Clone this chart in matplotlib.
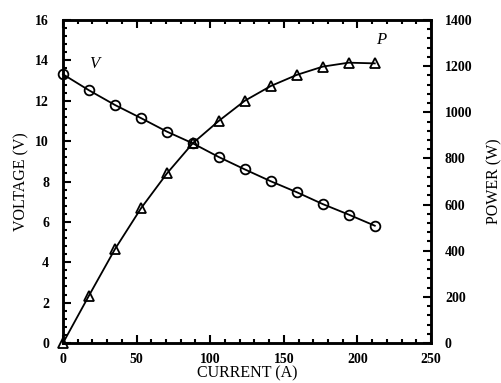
import matplotlib.pyplot as plt
from matplotlib.ticker import MultipleLocator

# data
current = [0, 17.6, 35.3, 53.0, 70.6, 88.2, 105.9, 123.5, 141.2, 158.8, 176.5, 194.1, 211.8]
voltage = [13.31, 12.52, 11.79, 11.14, 10.47, 9.89, 9.21, 8.60, 8.01, 7.47, 6.88, 6.36, 5.81]
power = [0, 205, 407, 584, 735, 866, 963, 1050, 1114, 1162, 1198, 1215, 1212]

serif = "Liberation Serif"

fig = plt.figure(figsize=(5.02, 3.83), dpi=100)
ax = fig.add_axes([0.1255, 0.1044, 0.7331, 0.8434])
ax2 = ax.twinx()

ax.plot(current, voltage, color="black", lw=1.3, marker="o", ms=7,
        mfc="none", mec="black", mew=1.3, clip_on=False, zorder=3)
ax2.plot(current, power, color="black", lw=1.3, marker="^", ms=7,
         mfc="none", mec="black", mew=1.3, clip_on=False, zorder=3)

ax.set_xlim(0, 250)
ax.set_ylim(0, 16)
ax2.set_ylim(0, 1400)

ax.xaxis.set_major_locator(MultipleLocator(50))
ax.xaxis.set_minor_locator(MultipleLocator(10))
ax.yaxis.set_major_locator(MultipleLocator(2))
ax.yaxis.set_minor_locator(MultipleLocator(0.4))
ax2.yaxis.set_major_locator(MultipleLocator(200))
ax2.yaxis.set_minor_locator(MultipleLocator(40))

ax.tick_params(which="both", direction="in", top=True, right=False, width=1.5)
ax.tick_params(which="major", length=6)
ax.tick_params(which="minor", length=3)
ax.tick_params(axis="x", pad=7)
ax.tick_params(axis="y", pad=10)
ax2.tick_params(which="both", direction="in", width=1.5)
ax2.tick_params(which="major", length=6, pad=10)
ax2.tick_params(which="minor", length=3)

for a in (ax, ax2):
    for s in a.spines.values():
        s.set_linewidth(1.8)
    for lab in a.get_xticklabels() + a.get_yticklabels():
        lab.set_fontfamily(serif)
        lab.set_fontweight("bold")
        lab.set_fontsize(10)

ax.set_xlabel("CURRENT (A)", family=serif, fontsize=11.5, labelpad=0)
ax.set_ylabel("VOLTAGE (V)", family=serif, fontsize=11.5, labelpad=4)
ax2.set_ylabel("POWER (W)", family=serif, fontsize=11.5, labelpad=10)

ax.text(18, 13.6, "V", family=serif, style="italic", fontsize=12)
ax.text(213, 14.8, "P", family=serif, style="italic", fontsize=12)

fig.savefig("out.png", dpi=100)
